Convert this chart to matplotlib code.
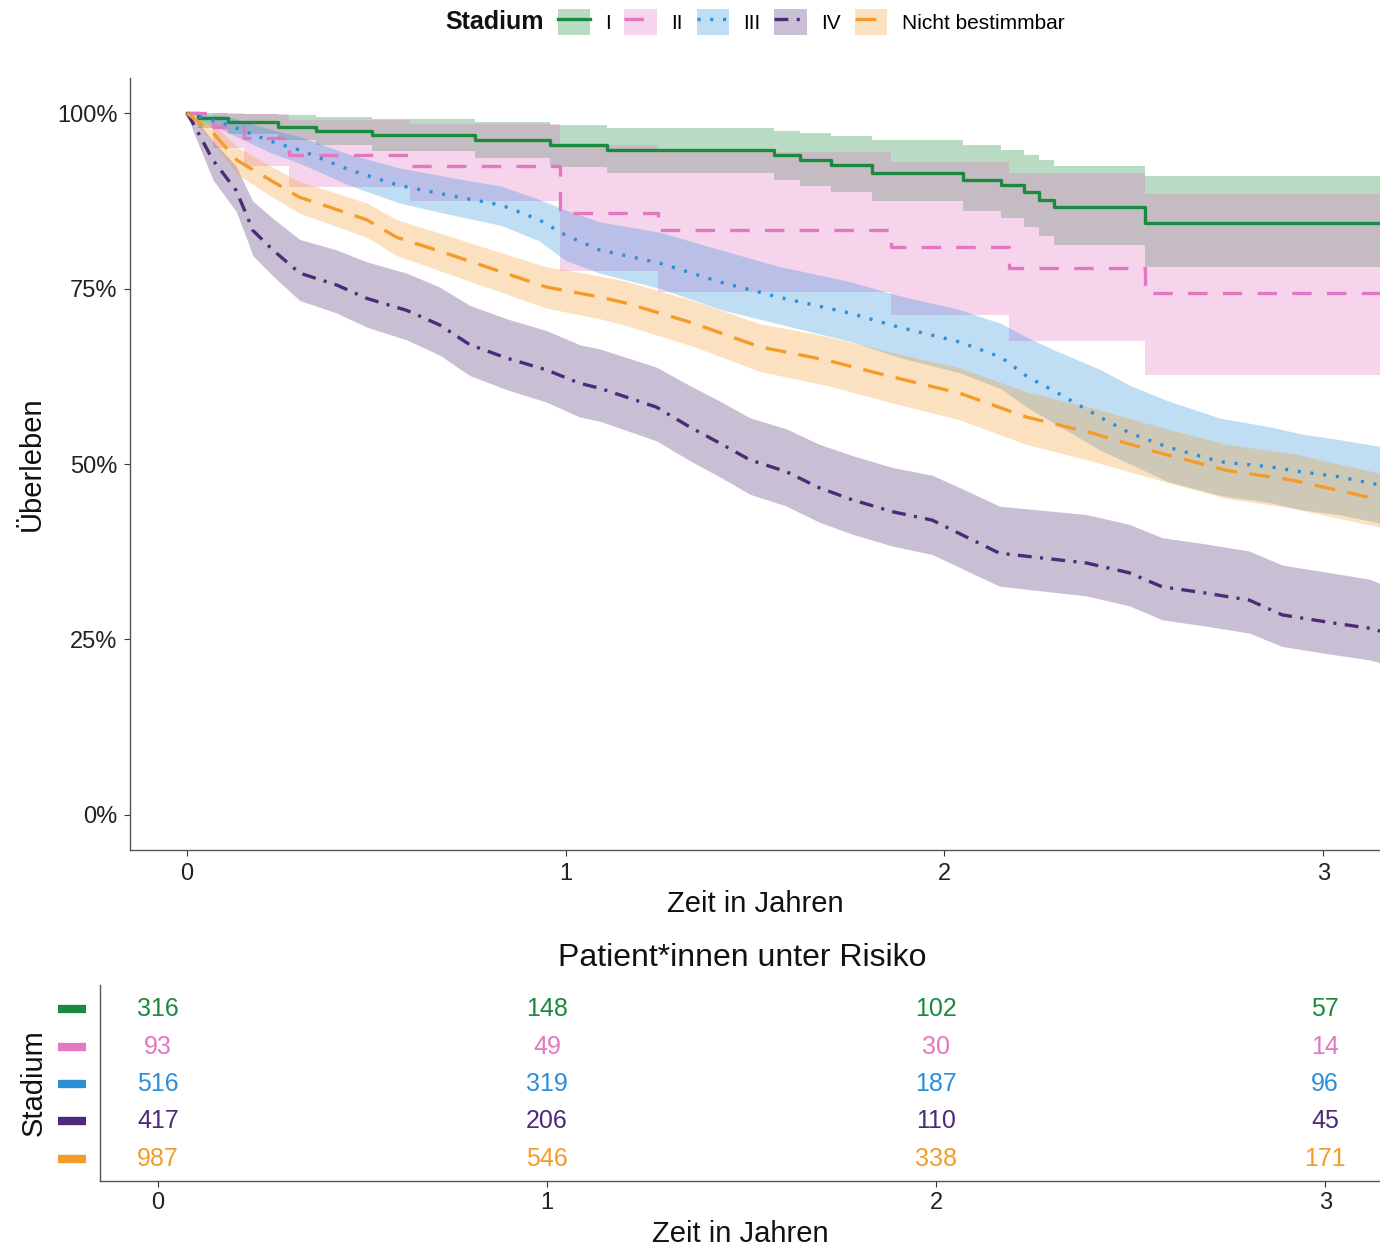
import numpy as np
import matplotlib.pyplot as plt
from matplotlib.lines import Line2D
from matplotlib.patches import Patch
from matplotlib.transforms import blended_transform_factory

plt.rcParams["font.family"] = ["Liberation Sans", "DejaVu Sans"]
plt.rcParams["lines.scale_dashes"] = False

# ---- data (time in years, survival as fraction) ----
stages = ["I", "II", "III", "IV", "Nicht bestimmbar"]
colors = ["#1a8a3e", "#e377c2", "#2c8fd9", "#4b2b77", "#f39c2b"]

# Stage I (step curve)
t_1 = [0, 0.03, 0.11, 0.24, 0.34, 0.49, 0.76, 0.96, 1.11, 1.55, 1.62, 1.70, 1.81,
       2.05, 2.15, 2.21, 2.25, 2.29, 2.53, 3.15]
s_1 = [1.0, 0.993, 0.987, 0.980, 0.975, 0.969, 0.962, 0.954, 0.947, 0.940, 0.933,
       0.926, 0.915, 0.905, 0.897, 0.887, 0.876, 0.866, 0.843, 0.843]
up_1 = [1.0, 1.0, 0.999, 0.997, 0.995, 0.992, 0.988, 0.983, 0.979, 0.975, 0.972,
        0.968, 0.962, 0.955, 0.947, 0.940, 0.933, 0.925, 0.910, 0.910]
lo_1 = [1.0, 0.979, 0.970, 0.962, 0.955, 0.946, 0.936, 0.923, 0.915, 0.905, 0.896,
        0.888, 0.875, 0.860, 0.850, 0.838, 0.825, 0.812, 0.780, 0.780]

# Stage II (step curve)
t_2 = [0, 0.07, 0.15, 0.27, 0.59, 0.985, 1.245, 1.86, 2.17, 2.53, 3.15]
s_2 = [1.0, 0.98, 0.965, 0.94, 0.925, 0.857, 0.833, 0.809, 0.779, 0.744, 0.744]
up_2 = [1.0, 1.0, 0.998, 0.99, 0.985, 0.955, 0.945, 0.93, 0.915, 0.885, 0.885]
lo_2 = [1.0, 0.95, 0.925, 0.895, 0.875, 0.775, 0.745, 0.712, 0.675, 0.627, 0.627]

# Stage III
t_3 = [0, 0.11, 0.22, 0.30, 0.43, 0.56, 0.69, 0.83, 0.93, 1.0, 1.09, 1.25, 1.41, 1.56,
       1.75, 1.88, 2.04, 2.15, 2.22, 2.30, 2.41, 2.49, 2.59, 2.73, 2.86, 2.94, 3.04, 3.15]
s_3 = [1.0, 0.983, 0.96, 0.947, 0.919, 0.897, 0.883, 0.869, 0.848, 0.826, 0.805, 0.786,
       0.759, 0.738, 0.715, 0.695, 0.674, 0.652, 0.624, 0.601, 0.567, 0.544, 0.524,
       0.503, 0.496, 0.489, 0.482, 0.47]
up_3 = [1.0, 0.995, 0.977, 0.966, 0.941, 0.922, 0.909, 0.896, 0.877, 0.862, 0.845, 0.83,
        0.805, 0.782, 0.76, 0.74, 0.72, 0.70, 0.68, 0.66, 0.635, 0.612, 0.59, 0.565,
        0.553, 0.543, 0.535, 0.525]
lo_3 = [1.0, 0.972, 0.944, 0.928, 0.897, 0.872, 0.856, 0.84, 0.818, 0.79, 0.772, 0.75,
        0.72, 0.70, 0.675, 0.652, 0.63, 0.607, 0.58, 0.555, 0.52, 0.50, 0.475, 0.455,
        0.445, 0.435, 0.428, 0.416]

# Stage IV
t_4 = [0, 0.016, 0.069, 0.13, 0.16, 0.174, 0.227, 0.298, 0.396, 0.475, 0.58, 0.668,
       0.747, 0.844, 0.95, 1.037, 1.09, 1.24, 1.327, 1.406, 1.486, 1.583, 1.67, 1.757,
       1.863, 1.968, 2.058, 2.145, 2.259, 2.375, 2.488, 2.575, 2.691, 2.805, 2.892,
       3.008, 3.121, 3.15]
s_4 = [1.0, 0.986, 0.933, 0.89, 0.852, 0.833, 0.805, 0.772, 0.755, 0.736, 0.719, 0.698,
       0.67, 0.651, 0.634, 0.615, 0.608, 0.581, 0.553, 0.530, 0.506, 0.489, 0.466,
       0.449, 0.432, 0.420, 0.396, 0.373, 0.366, 0.359, 0.345, 0.325, 0.316, 0.306,
       0.285, 0.275, 0.266, 0.262]
up_4 = [1.0, 0.997, 0.96, 0.925, 0.89, 0.875, 0.85, 0.82, 0.805, 0.788, 0.772, 0.752,
        0.726, 0.707, 0.69, 0.67, 0.664, 0.638, 0.612, 0.59, 0.566, 0.55, 0.528, 0.512,
        0.495, 0.484, 0.462, 0.44, 0.434, 0.428, 0.414, 0.395, 0.386, 0.376, 0.356,
        0.346, 0.336, 0.33]
lo_4 = [1.0, 0.975, 0.905, 0.86, 0.818, 0.797, 0.768, 0.733, 0.715, 0.695, 0.677, 0.655,
        0.626, 0.606, 0.588, 0.567, 0.561, 0.533, 0.505, 0.482, 0.457, 0.44, 0.417, 0.40,
        0.383, 0.371, 0.348, 0.326, 0.319, 0.312, 0.298, 0.278, 0.269, 0.259, 0.24,
        0.23, 0.221, 0.217]

# Nicht bestimmbar
t_nb = [0, 0.069, 0.132, 0.219, 0.298, 0.377, 0.475, 0.554, 0.686, 0.818, 0.95, 1.09,
        1.161, 1.335, 1.512, 1.689, 1.863, 2.04, 2.216, 2.39, 2.567, 2.744, 2.918, 3.15]
s_nb = [1.0, 0.972, 0.933, 0.905, 0.88, 0.866, 0.848, 0.823, 0.80, 0.776, 0.752, 0.738,
        0.729, 0.701, 0.667, 0.648, 0.624, 0.601, 0.567, 0.544, 0.516, 0.491, 0.477, 0.449]
up_nb = [1.0, 0.985, 0.952, 0.925, 0.902, 0.889, 0.872, 0.848, 0.826, 0.803, 0.781,
         0.768, 0.76, 0.733, 0.70, 0.682, 0.659, 0.637, 0.603, 0.58, 0.553, 0.528,
         0.515, 0.487]
lo_nb = [1.0, 0.958, 0.913, 0.883, 0.857, 0.842, 0.823, 0.797, 0.772, 0.747, 0.722,
         0.707, 0.697, 0.668, 0.632, 0.612, 0.587, 0.563, 0.528, 0.504, 0.477, 0.451,
         0.437, 0.41]

# numbers at risk at 0, 1, 2, 3 years
risk_times = [0, 1, 2, 3]
risk_1 = [316, 148, 102, 57]
risk_2 = [93, 49, 30, 14]
risk_3 = [516, 319, 187, 96]
risk_4 = [417, 206, 110, 45]
risk_nb = [987, 546, 338, 171]

curves = [
    (t_1, s_1, up_1, lo_1, "post", "-"),
    (t_2, s_2, up_2, lo_2, "post", (0, (14, 11))),
    (t_3, s_3, up_3, lo_3, None, (0, (2.2, 7))),
    (t_4, s_4, up_4, lo_4, None, (0, (10, 6, 2.2, 6))),
    (t_nb, s_nb, up_nb, lo_nb, None, (0, (15, 9))),
]
risks = [risk_1, risk_2, risk_3, risk_4, risk_nb]

fig = plt.figure(figsize=(13.8, 12.49), dpi=100)
ax = fig.add_axes([130 / 1380, 1 - 850 / 1249, 1250 / 1380, 772 / 1249])
ax2 = fig.add_axes([100 / 1380, 1 - 1181 / 1249, 1280 / 1380, 196 / 1249])

spine_col = "#555555"

# ---- survival curves ----
for (t, s, up, lo, step, ls), col in zip(curves, colors):
    if step:
        ax.fill_between(t, lo, up, step=step, color=col, alpha=0.3, linewidth=0)
    else:
        ax.fill_between(t, lo, up, color=col, alpha=0.3, linewidth=0)
for (t, s, up, lo, step, ls), col in zip(curves, colors):
    if step:
        ax.step(t, s, where=step, color=col, lw=2.4, linestyle=ls)
    else:
        ax.plot(t, s, color=col, lw=2.4, linestyle=ls)

ax.set_xlim(-0.15, 3.15)
ax.set_ylim(-0.05, 1.05)
ax.set_xticks([0, 1, 2, 3])
ax.set_yticks([0, 0.25, 0.5, 0.75, 1.0])
ax.set_yticklabels(["0%", "25%", "50%", "75%", "100%"])
for sp in ["top", "right"]:
    ax.spines[sp].set_visible(False)
for sp in ["left", "bottom"]:
    ax.spines[sp].set_color(spine_col)
    ax.spines[sp].set_linewidth(1.0)
ax.tick_params(axis="both", labelsize=17, colors="#333333", length=4, width=0.8,
               pad=5, labelcolor="#222222")
ax.set_xlabel("Zeit in Jahren", fontsize=21, color="#111111")
ax.set_ylabel("Überleben", fontsize=21, color="#111111")
ax.xaxis.set_label_coords(0.5, -0.052)
ax.yaxis.set_label_coords(-0.067, 0.5)

# ---- legend ----
handles = []
for (t, s, up, lo, step, ls), col in zip(curves, colors):
    handles.append((Patch(facecolor=col, alpha=0.3, linewidth=0),
                    Line2D([], [], color=col, lw=2.4, linestyle=ls)))
fig.legend(handles, stages, loc="center left", bbox_to_anchor=(558 / 1380, 1 - 22 / 1249),
           ncol=5, frameon=False, fontsize=15, handlelength=1.55, handleheight=1.6,
           handletextpad=0.7, columnspacing=0.66, borderpad=0, borderaxespad=0)
fig.text(445 / 1380, 1 - 22 / 1249, "Stadium", fontsize=18, fontweight="bold",
         ha="left", va="center", color="#111111")

# ---- risk table ----
rows = [5, 4, 3, 2, 1]
for row, col, r in zip(rows, colors, risks):
    for tt, n in zip(risk_times, r):
        ax2.text(tt, row, str(n), color=col, fontsize=18, ha="center", va="center")
trans = blended_transform_factory(ax2.transAxes, ax2.transData)
for row, col in zip(rows, colors):
    ax2.plot([-0.033, -0.011], [row, row], transform=trans, color=col, lw=6,
             solid_capstyle="butt", clip_on=False)

ax2.set_xlim(-0.149, 3.141)
ax2.set_ylim(0.4, 5.65)
ax2.set_xticks([0, 1, 2, 3])
ax2.set_yticks([])
for sp in ["top", "right"]:
    ax2.spines[sp].set_visible(False)
for sp in ["left", "bottom"]:
    ax2.spines[sp].set_color(spine_col)
    ax2.spines[sp].set_linewidth(1.0)
ax2.tick_params(axis="x", labelsize=17, colors="#333333", length=4, width=0.8,
                pad=4, labelcolor="#222222")
ax2.set_xlabel("Zeit in Jahren", fontsize=21, color="#111111")
ax2.set_ylabel("Stadium", fontsize=21, color="#111111")
ax2.xaxis.set_label_coords(0.5, -0.2)
ax2.yaxis.set_label_coords(-0.041, 0.5)
fig.text(742 / 1380, 1 - 958 / 1249, "Patient*innen unter Risiko", fontsize=23,
         ha="center", va="center", color="#111111")

fig.savefig("out.png", dpi=100)
